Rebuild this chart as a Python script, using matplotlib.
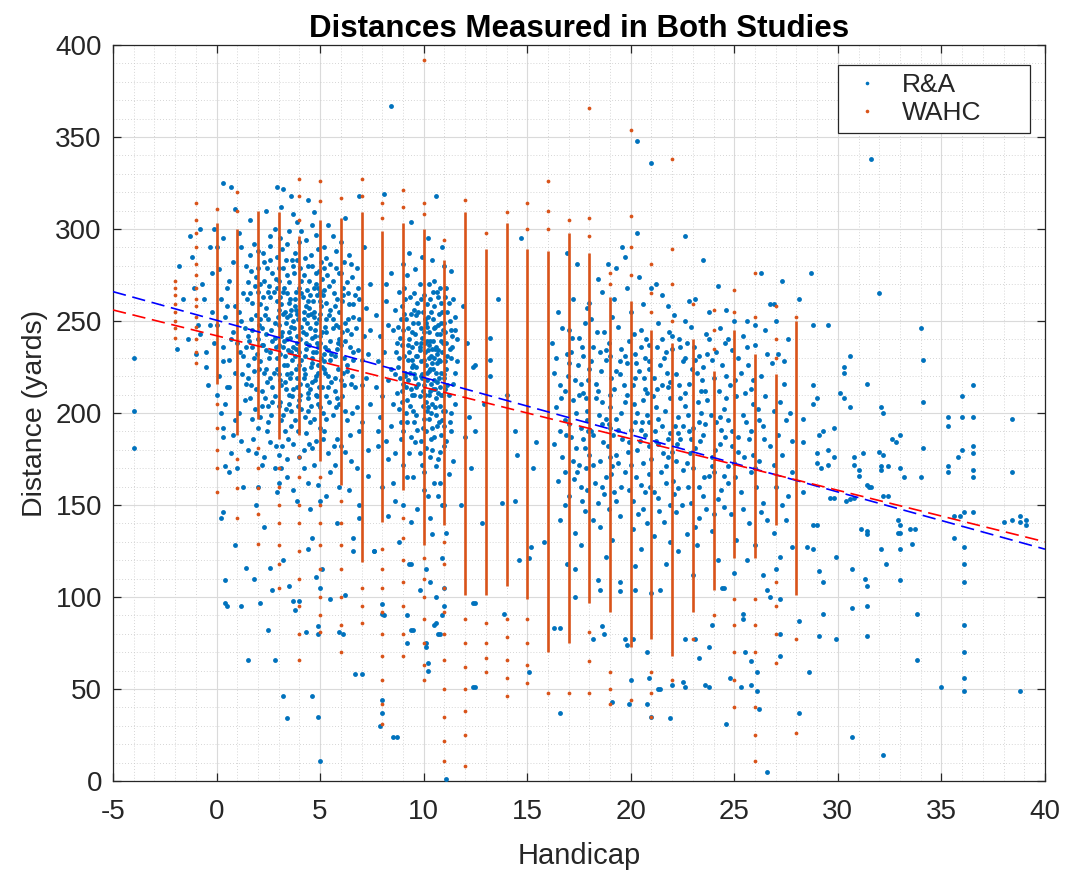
import matplotlib
matplotlib.use('Agg')
import matplotlib.pyplot as plt
from matplotlib.lines import Line2D
from matplotlib.ticker import MultipleLocator

plt.rcParams['font.family'] = ['Liberation Sans', 'DejaVu Sans']

# ---------------- R&A study (handicap, distance) ----------------
ra_far_left = [(-4.0, 230), (-4.0, 201), (-4.0, 181), (-1.8, 280), (-1.3, 296), (-1.9, 235),
               (-1.6, 262), (-1.2, 285), (-0.9, 248), (-0.7, 270), (-0.5, 233), (-0.3, 290),
               (-0.2, 255), (-0.1, 300), (-1.0, 232), (-0.4, 215), (-1.4, 240), (-0.8, 300),
               (0.0, 210), (-0.6, 262), (-0.3, 248), (-0.8, 243), (-0.2, 276), (-0.5, 225),
               (-0.1, 238), (0.0, 290), (-1.1, 268)]

ra_cluster_a = [
    (0.3, 325), (2.9, 323), (3.2, 322), (0.7, 323), (3.6, 318), (4.4, 316), (6.9, 318),
    (1.6, 305), (2.4, 310), (3.1, 312), (3.9, 304), (4.7, 309), (5.4, 302), (6.2, 306), (2.8, 300), (4.1, 299), (0.9, 311),
    (0.3, 295), (1.2, 290), (2.0, 288), (2.6, 296), (3.4, 292), (3.8, 287), (4.3, 294), (4.9, 289), (5.6, 296),
    (6.4, 286), (7.1, 290), (1.6, 286), (2.9, 285),
    (0.1, 278), (0.6, 272), (1.4, 280), (1.9, 274), (2.3, 282), (2.7, 276), (3.2, 279), (3.5, 271), (3.9, 283),
    (4.2, 275), (4.6, 280), (5.1, 273), (5.5, 281), (5.9, 276), (6.3, 271), (6.8, 279), (2.1, 270), (4.8, 270),
    (3.0, 272), (5.3, 284),
    (0.2, 262), (0.5, 268), (0.9, 258), (1.3, 265), (1.7, 260), (2.0, 266), (2.4, 257), (2.6, 263), (2.9, 268),
    (3.1, 259), (3.4, 265), (3.6, 256), (3.8, 262), (4.0, 268), (4.3, 258), (4.5, 264), (4.7, 255), (5.0, 261),
    (5.2, 267), (5.5, 256), (5.8, 262), (6.1, 268), (6.4, 259), (6.7, 264), (7.2, 257), (1.1, 255), (3.3, 255),
    (4.9, 268), (5.9, 255),
    (0.0, 248), (0.4, 252), (0.8, 244), (1.2, 250), (1.5, 242), (1.9, 253), (2.2, 246), (2.5, 251), (2.8, 241),
    (3.0, 248), (3.2, 254), (3.5, 244), (3.7, 250), (3.9, 242), (4.1, 247), (4.4, 253), (4.6, 241), (4.8, 249),
    (5.1, 244), (5.3, 251), (5.6, 246), (5.9, 240), (6.2, 249), (6.5, 243), (6.9, 251), (7.4, 245), (2.0, 240),
    (3.4, 240), (4.3, 243), (5.0, 254),
    (0.3, 236), (0.6, 229), (1.0, 238), (1.3, 231), (1.7, 236), (2.1, 228), (2.4, 234), (2.7, 239), (2.9, 230),
    (3.2, 236), (3.4, 226), (3.6, 233), (3.9, 238), (4.1, 229), (4.3, 235), (4.6, 227), (4.8, 233), (5.0, 238),
    (5.2, 228), (5.4, 234), (5.7, 231), (6.0, 237), (6.3, 226), (6.6, 233), (7.0, 229), (4.0, 226), (4.9, 226),
    (3.8, 231), (5.5, 239), (1.5, 226),
    (0.1, 220), (0.5, 214), (0.9, 222), (1.4, 216), (1.8, 223), (2.2, 212), (2.6, 219), (2.9, 224), (3.1, 215),
    (3.4, 221), (3.7, 213), (3.9, 219), (4.2, 224), (4.4, 211), (4.6, 217), (4.9, 222), (5.1, 214), (5.4, 220),
    (5.7, 212), (6.0, 218), (6.3, 223), (6.7, 214), (7.2, 219), (3.5, 210), (4.8, 210), (5.2, 224), (2.4, 224),
    (0.4, 205), (1.1, 200), (1.6, 208), (2.1, 198), (2.5, 204), (2.8, 209), (3.2, 199), (3.5, 205), (3.8, 196),
    (4.1, 202), (4.4, 208), (4.7, 197), (5.0, 203), (5.3, 209), (5.6, 199), (5.9, 205), (6.3, 196), (6.8, 203),
    (4.5, 195), (3.0, 204),
    (0.8, 188), (1.5, 180), (2.0, 192), (2.6, 184), (3.0, 177), (3.3, 190), (3.7, 183), (4.0, 176), (4.3, 189),
    (4.6, 181), (5.0, 192), (5.4, 178), (5.8, 186), (6.2, 179), (6.9, 190), (2.3, 176), (4.8, 185),
    (0.6, 168), (1.3, 160), (2.2, 172), (2.9, 157), (3.4, 165), (3.9, 152), (4.2, 170), (4.9, 161), (5.3, 155),
    (5.7, 172), (6.4, 158), (7.3, 166), (1.9, 150), (4.5, 148),
    (0.2, 143), (0.9, 128), (1.8, 110), (2.3, 138), (3.2, 120), (3.5, 106), (4.6, 132), (5.1, 115), (5.8, 140),
    (6.6, 125), (6.2, 101), (4.0, 98), (2.7, 104), (1.2, 95), (0.4, 97),
    (0.3, 192), (0.3, 187), (0.4, 171), (0.3, 146), (0.4, 109), (0.5, 95), (2.6, 116), (2.8, 66), (3.1, 170),
    (3.7, 98), (3.8, 93), (4.3, 81), (4.4, 126), (4.6, 46), (4.9, 35), (4.8, 111), (5.0, 105), (5.5, 99),
    (5.9, 81), (6.1, 80), (5.0, 11), (6.6, 132), (6.9, 143), (1.5, 66), (2.5, 82), (2.1, 97), (1.4, 116),
    (3.2, 46), (3.4, 34), (4.9, 84), (4.9, 80), (6.7, 58)]

ra_core_a = [
    (2.25, 287), (3.15, 289), (3.65, 283), (4.55, 286), (5.05, 282), (5.75, 288), (3.05, 295),
    (1.65, 277), (2.45, 279), (2.85, 273), (3.35, 283), (3.75, 276), (4.05, 279), (4.45, 272), (4.95, 277),
    (5.35, 275), (5.75, 279), (6.15, 282), (6.55, 274), (4.25, 284),
    (1.45, 262), (1.85, 269), (2.25, 263), (2.75, 266), (3.05, 263), (3.25, 268), (3.55, 262), (3.85, 266),
    (4.15, 263), (4.35, 267), (4.65, 261), (4.85, 264), (5.15, 264), (5.45, 269), (5.65, 265), (6.05, 261),
    (6.35, 265), (6.85, 268), (2.55, 269),
    (1.35, 246), (1.65, 251), (2.05, 248), (2.35, 253), (2.65, 245), (2.95, 252), (3.15, 244), (3.35, 249),
    (3.55, 253), (3.75, 246), (3.95, 251), (4.15, 244), (4.35, 249), (4.55, 254), (4.75, 245), (4.95, 251),
    (5.25, 247), (5.45, 253), (5.75, 248), (6.05, 244), (6.35, 251), (6.75, 246), (3.85, 256), (4.45, 257),
    (5.05, 258),
    (1.15, 233), (1.55, 239), (1.95, 232), (2.25, 237), (2.55, 230), (2.85, 236), (3.05, 232), (3.25, 239),
    (3.45, 234), (3.65, 229), (3.85, 235), (4.05, 240), (4.25, 231), (4.45, 237), (4.65, 233), (4.85, 238),
    (5.05, 230), (5.25, 236), (5.55, 232), (5.85, 238), (6.15, 230), (6.45, 236), (6.85, 234), (3.55, 241),
    (4.75, 242),
    (1.25, 221), (1.65, 215), (2.05, 224), (2.45, 217), (2.75, 222), (3.05, 218), (3.25, 226), (3.55, 219),
    (3.85, 224), (4.05, 216), (4.25, 221), (4.55, 225), (4.75, 218), (4.95, 214), (5.25, 222), (5.55, 217),
    (5.85, 224), (6.15, 215), (6.55, 220), (3.35, 213), (4.35, 215),
    (1.35, 207), (1.85, 202), (2.35, 208), (2.65, 199), (3.05, 206), (3.35, 202), (3.65, 209), (3.95, 204),
    (4.25, 198), (4.55, 204), (4.85, 209), (5.15, 200), (5.45, 206), (5.75, 203), (6.05, 209), (6.55, 200),
    (4.05, 210),
    (1.75, 186), (2.45, 190), (2.85, 182), (3.45, 186), (3.95, 190), (4.45, 183), (5.15, 186), (5.65, 182),
    (6.45, 188), (3.15, 182)]

ra_core_a_dense = [
    (1.8, 292), (2.6, 291), (3.5, 299), (4.0, 293), (4.8, 297), (5.2, 290), (6.0, 293), (3.7, 308), (4.6, 302),
    (1.5, 271), (2.0, 279), (2.6, 283), (3.0, 279), (3.4, 275), (3.7, 280), (4.1, 272), (4.4, 280), (4.8, 276),
    (5.2, 279), (5.6, 272), (6.0, 276), (6.5, 281), (2.3, 272),
    (1.6, 265), (2.1, 259), (2.5, 266), (2.9, 261), (3.2, 266), (3.5, 260), (3.8, 258), (4.1, 265), (4.4, 261),
    (4.7, 268), (5.0, 266), (5.3, 260), (5.7, 258), (6.1, 264), (6.6, 259), (3.0, 256), (4.2, 255),
    (1.7, 245), (2.1, 251), (2.4, 243), (2.8, 249), (3.1, 242), (3.4, 252), (3.6, 247), (3.9, 254), (4.2, 251),
    (4.5, 246), (4.7, 252), (5.0, 242), (5.3, 244), (5.6, 251), (5.9, 247), (6.3, 245), (6.6, 252),
    (1.4, 236), (1.8, 230), (2.2, 237), (2.6, 233), (3.0, 237), (3.3, 231), (3.7, 236), (4.0, 233), (4.3, 238),
    (4.6, 230), (4.9, 236), (5.2, 232), (5.5, 229), (5.8, 235), (6.2, 239), (6.6, 229),
    (1.5, 219), (1.9, 213), (2.3, 222), (2.7, 214), (3.0, 221), (3.3, 217), (3.6, 222), (3.9, 214), (4.2, 219),
    (4.5, 213), (4.8, 220), (5.1, 225), (5.4, 214), (5.7, 219), (6.1, 222), (6.5, 216),
    (1.7, 197), (2.2, 204), (2.7, 206), (3.1, 196), (3.6, 201), (4.0, 207), (4.4, 201), (4.9, 205), (5.3, 197),
    (5.8, 208), (6.2, 201)]

ra_fringe_a = [
    (1.2, 185), (1.9, 178), (2.5, 195), (2.8, 170), (3.4, 175), (3.6, 193), (4.2, 180), (4.7, 172), (5.2, 190),
    (5.5, 168), (6.0, 182), (6.5, 174), (7.0, 195), (7.3, 180), (2.0, 160), (3.0, 162), (3.7, 158), (4.4, 162),
    (5.0, 152), (5.9, 160), (6.8, 170), (7.4, 205), (7.0, 215), (7.3, 232), (7.1, 242), (6.9, 262), (7.4, 270),
    (1.0, 170), (0.7, 178), (0.9, 196), (0.2, 200), (0.6, 214), (0.3, 228), (0.7, 240), (0.5, 258), (0.8, 282),
    (1.1, 298)]

ra_cluster_b = [
    (8.1, 319), (10.6, 318), (9.4, 304), (10.2, 295), (9.3, 287), (10.9, 290), (8.4, 367),
    (8.4, 276), (11.3, 277), (9.0, 281), (9.8, 270), (10.4, 283), (10.8, 268), (8.8, 266), (11.0, 280), (9.6, 278),
    (7.7, 253), (8.2, 261), (8.6, 256), (9.1, 262), (9.4, 254), (9.7, 260), (10.0, 264), (10.2, 252), (10.5, 258),
    (10.7, 263), (10.9, 255), (11.2, 260), (11.5, 252), (8.9, 251), (10.3, 262),
    (7.9, 242), (8.3, 248), (8.7, 238), (9.0, 245), (9.3, 240), (9.5, 249), (9.8, 236), (10.0, 244), (10.1, 249),
    (10.3, 239), (10.5, 246), (10.6, 236), (10.8, 243), (11.0, 249), (11.1, 238), (11.3, 245), (11.6, 240),
    (8.5, 245), (9.9, 241), (10.7, 248), (10.4, 235), (9.6, 243),
    (7.8, 228), (8.1, 233), (8.4, 224), (8.8, 230), (9.1, 222), (9.3, 233), (9.5, 226), (9.7, 231), (9.9, 221),
    (10.0, 229), (10.2, 234), (10.3, 224), (10.5, 230), (10.6, 222), (10.8, 228), (10.9, 233), (11.1, 224),
    (11.3, 230), (11.5, 222), (8.6, 221), (9.8, 234), (10.4, 227), (10.7, 234), (11.0, 221), (10.1, 226),
    (7.7, 214), (8.0, 209), (8.3, 218), (8.7, 211), (9.0, 216), (9.2, 207), (9.4, 213), (9.6, 219), (9.8, 209),
    (10.0, 215), (10.1, 206), (10.3, 212), (10.5, 218), (10.6, 208), (10.8, 214), (11.0, 219), (11.2, 210),
    (11.4, 216), (9.9, 219), (10.4, 205), (10.7, 211), (9.1, 220), (8.5, 205),
    (7.9, 198), (8.4, 193), (8.8, 202), (9.2, 195), (9.5, 201), (9.7, 191), (10.0, 197), (10.2, 203), (10.4, 192),
    (10.6, 199), (10.8, 204), (11.0, 193), (11.3, 200), (9.0, 190), (10.1, 190), (10.9, 196),
    (7.8, 182), (8.3, 175), (8.9, 186), (9.3, 178), (9.6, 184), (9.9, 172), (10.1, 181), (10.3, 176), (10.5, 187),
    (10.8, 179), (11.1, 185), (11.4, 174), (9.0, 172), (10.6, 171),
    (8.0, 160), (8.6, 152), (9.2, 165), (9.7, 148), (10.0, 158), (10.3, 143), (10.5, 162), (10.9, 150),
    (11.2, 167), (8.3, 144), (9.4, 141), (10.7, 155),
    (7.6, 125), (8.8, 130), (9.3, 118), (10.1, 115), (10.3, 108), (10.6, 100), (10.9, 121), (11.1, 135),
    (9.8, 104), (10.4, 134),
    (8.0, 96), (8.1, 90), (8.0, 44), (8.0, 37), (7.9, 30), (8.7, 24), (8.5, 24), (9.2, 90), (9.2, 75), (9.5, 82),
    (10.1, 75), (10.2, 64), (10.2, 60), (10.6, 86), (10.7, 80), (10.5, 85), (10.8, 80), (10.9, 90), (11.0, 95),
    (11.0, 105), (10.1, 73), (11.1, 1), (7.0, 58), (6.9, 150), (8.0, 91), (9.4, 118), (9.4, 82), (7.6, 125)]

ra_core_b = [
    (8.95, 258), (9.35, 263), (9.75, 255), (10.15, 259), (10.45, 266), (10.85, 260), (11.15, 255),
    (8.75, 247), (9.15, 251), (9.45, 244), (9.65, 253), (9.85, 246), (10.05, 251), (10.25, 244), (10.45, 251),
    (10.65, 243), (10.85, 249), (11.05, 244), (11.25, 250), (10.15, 239),
    (8.65, 233), (8.95, 237), (9.25, 229), (9.45, 236), (9.65, 231), (9.85, 238), (10.05, 233), (10.15, 222),
    (10.25, 237), (10.35, 231), (10.45, 224), (10.55, 235), (10.75, 229), (10.95, 238), (11.15, 231),
    (11.35, 236), (9.55, 221), (10.65, 227),
    (8.85, 219), (9.15, 214), (9.35, 222), (9.55, 210), (9.75, 216), (9.95, 212), (10.15, 218), (10.25, 210),
    (10.35, 216), (10.55, 213), (10.75, 219), (10.95, 210), (11.15, 215), (9.65, 225), (10.85, 222),
    (8.95, 206), (9.35, 204), (9.65, 199), (9.95, 204), (10.25, 197), (10.55, 203), (10.75, 195), (11.05, 201),
    (10.35, 186), (9.85, 185), (10.85, 188), (10.15, 201)]

ra_core_b_dense = [
    (9.05, 268), (9.55, 265), (10.25, 270), (10.65, 266), (11.05, 263), (9.85, 262),
    (8.85, 241), (9.05, 254), (9.25, 246), (9.55, 256), (9.75, 249), (9.95, 255), (10.15, 247), (10.35, 255),
    (10.55, 247), (10.75, 254), (10.95, 245), (11.35, 242),
    (8.75, 225), (9.05, 231), (9.25, 237), (9.45, 229), (9.65, 238), (9.85, 228), (10.05, 238), (10.25, 230),
    (10.45, 239), (10.65, 232), (10.85, 239), (11.05, 228), (11.25, 235),
    (8.95, 212), (9.25, 218), (9.45, 210), (9.65, 214), (9.85, 220), (10.05, 210), (10.25, 223), (10.45, 213),
    (10.65, 217), (10.85, 210), (11.05, 213), (9.45, 225),
    (9.15, 200), (9.55, 195), (9.95, 192), (10.35, 200), (10.65, 193), (10.95, 201), (11.25, 195)]

ra_fringe_b = [
    (7.8, 190), (8.2, 185), (8.6, 178), (8.9, 195), (9.4, 187), (9.8, 178), (10.0, 168), (10.4, 180),
    (10.7, 175), (11.0, 182), (11.3, 190), (11.5, 205), (11.6, 228), (11.5, 245), (11.4, 262), (8.2, 270),
    (9.2, 275), (9.9, 285), (10.5, 272), (11.1, 268), (9.5, 165), (10.2, 155), (10.8, 162), (8.5, 162),
    (9.0, 150), (11.0, 150)]

ra_middle = [(12.4, 51), (12.4, 97), (12.5, 97), (12.5, 51), (11.9, 258), (12.1, 238), (12.4, 225), (12.5, 226),
             (13.2, 241), (13.2, 229), (13.2, 220), (12.2, 198), (12.5, 190), (12.3, 170), (12.0, 187),
             (14.4, 190), (14.5, 177), (14.4, 152), (14.7, 295), (15.3, 170), (15.4, 184), (15.1, 121),
             (15.8, 130), (13.8, 151), (14.6, 120), (13.9, 91), (15.1, 59), (15.2, 127), (12.9, 205),
             (13.6, 262), (14.0, 210), (11.8, 150), (12.8, 140), (20.3, 348), (21.0, 336), (31.6, 338)]

ra_cluster_c = [
    (17.4, 281), (18.4, 273), (18.9, 281), (19.6, 290), (19.7, 285), (20.4, 274), (20.3, 298), (21.2, 270),
    (23.5, 283), (24.2, 269), (19.3, 279), (16.9, 287), (22.6, 296),
    (16.5, 255), (17.2, 262), (17.9, 257), (18.6, 266), (19.1, 252), (19.8, 268), (20.6, 259), (21.5, 264),
    (22.1, 253), (22.8, 261), (23.1, 262), (24.6, 256), (25.6, 250), (26.7, 259), (26.9, 259), (27.3, 272),
    (26.3, 276), (21.0, 268), (18.1, 251),
    (16.2, 238), (16.7, 246), (17.1, 233), (17.5, 241), (17.8, 249), (18.2, 236), (18.7, 244), (19.0, 231),
    (19.4, 247), (19.9, 239), (20.2, 232), (20.5, 245), (20.9, 237), (21.3, 249), (21.7, 233), (22.0, 242),
    (22.4, 236), (22.9, 247), (23.3, 231), (23.8, 240), (24.3, 246), (24.9, 234), (25.4, 242), (26.0, 237),
    (26.5, 245), (27.1, 232), (27.6, 240), (20.7, 230), (18.5, 233), (22.6, 230),
    (16.3, 222), (16.6, 215), (17.0, 227), (17.3, 218), (17.7, 211), (18.0, 224), (18.3, 216), (18.8, 229),
    (19.2, 213), (19.5, 221), (19.8, 227), (20.1, 215), (20.4, 223), (20.8, 211), (21.1, 219), (21.4, 226),
    (21.8, 214), (22.2, 221), (22.5, 228), (22.8, 216), (23.2, 222), (23.6, 212), (24.0, 219), (24.4, 226),
    (24.8, 215), (25.3, 222), (25.8, 213), (26.3, 220), (26.8, 227), (27.4, 216), (19.0, 210), (21.6, 230),
    (23.9, 229),
    (16.4, 203), (16.8, 196), (17.2, 207), (17.6, 192), (17.9, 201), (18.3, 208), (18.6, 194), (19.0, 203),
    (19.3, 197), (19.7, 206), (20.0, 191), (20.3, 200), (20.6, 207), (20.9, 195), (21.2, 203), (21.5, 193),
    (21.9, 208), (22.3, 198), (22.6, 204), (23.0, 192), (23.4, 200), (23.7, 207), (24.1, 195), (24.5, 202),
    (24.9, 190), (25.4, 199), (25.9, 205), (26.4, 193), (26.9, 201), (27.5, 196), (18.1, 190), (20.8, 199),
    (22.8, 190), (25.1, 209),
    (16.3, 183), (16.7, 176), (17.1, 187), (17.5, 172), (17.8, 181), (18.2, 188), (18.5, 174), (18.9, 182),
    (19.3, 177), (19.6, 186), (20.0, 172), (20.3, 180), (20.7, 188), (21.0, 175), (21.3, 183), (21.7, 171),
    (22.0, 179), (22.4, 186), (22.7, 173), (23.1, 181), (23.5, 188), (23.9, 176), (24.3, 183), (24.7, 171),
    (25.2, 179), (25.7, 186), (26.2, 174), (26.7, 182), (27.3, 177), (27.8, 185), (21.9, 189), (19.1, 171),
    (16.5, 163), (17.0, 155), (17.4, 168), (17.9, 158), (18.4, 151), (18.8, 165), (19.2, 157), (19.7, 168),
    (20.1, 152), (20.5, 161), (20.9, 167), (21.3, 154), (21.7, 162), (22.1, 156), (22.5, 169), (22.9, 151),
    (23.3, 160), (23.8, 166), (24.2, 153), (24.7, 162), (25.3, 157), (25.8, 168), (26.4, 151), (27.0, 160),
    (27.6, 155), (20.7, 157), (18.6, 160),
    (16.6, 142), (17.3, 135), (17.8, 147), (18.5, 138), (19.1, 131), (19.5, 144), (20.1, 137), (20.6, 148),
    (21.1, 133), (21.6, 141), (22.2, 146), (22.7, 134), (23.3, 143), (23.9, 136), (24.5, 149), (25.1, 131),
    (25.7, 140), (26.3, 146), (26.9, 135), (27.5, 142), (21.9, 130),
    (16.9, 118), (17.3, 115), (17.3, 100), (18.4, 109), (18.5, 104), (19.5, 108), (19.5, 103), (20.2, 117),
    (20.2, 104), (21.0, 102), (21.4, 104), (22.3, 125), (23.0, 112), (24.4, 105), (24.5, 105), (25.6, 120),
    (26.4, 112), (26.6, 104), (26.7, 100), (27.2, 122), (27.8, 127),
    (16.3, 83), (16.6, 83), (16.6, 37), (18.2, 77), (18.6, 84), (18.7, 80), (19.1, 43), (19.7, 77), (19.8, 74),
    (20.1, 77), (20.0, 55), (19.9, 42), (20.8, 42), (20.8, 70), (20.9, 56), (21.0, 35), (21.3, 50), (21.4, 50),
    (21.9, 34), (22.0, 52), (22.5, 54), (22.6, 77), (23.1, 77), (22.6, 51), (23.3, 67), (23.8, 73), (23.6, 52),
    (23.8, 51), (23.9, 85), (24.6, 31), (24.8, 56), (25.3, 51), (25.5, 70), (25.4, 91), (25.4, 88), (25.8, 52),
    (26.1, 49), (25.8, 65), (26.1, 59), (26.2, 39), (26.6, 5), (27.2, 80), (27.2, 68), (27.2, 99)]

ra_core_c = [
    (17.15, 241), (17.65, 236), (18.35, 244), (18.95, 238), (19.55, 235), (20.15, 243), (20.75, 240),
    (21.25, 236), (21.85, 244), (22.35, 240), (23.05, 236), (23.65, 243), (24.55, 238),
    (16.95, 220), (17.45, 226), (17.95, 218), (18.55, 223), (19.05, 219), (19.65, 215), (20.25, 227),
    (20.65, 219), (21.25, 213), (21.75, 222), (22.35, 215), (22.95, 224), (23.45, 218), (24.25, 212),
    (25.05, 218), (25.65, 226),
    (16.65, 208), (17.35, 200), (17.85, 208), (18.45, 199), (18.95, 194), (19.55, 200), (20.15, 205),
    (20.55, 195), (21.05, 209), (21.65, 201), (22.15, 193), (22.75, 199), (23.25, 206), (23.85, 199),
    (24.35, 191), (25.55, 195), (26.15, 202),
    (16.85, 188), (17.35, 181), (17.95, 190), (18.65, 184), (19.15, 188), (19.85, 179), (20.45, 185),
    (21.15, 190), (21.55, 178), (22.25, 183), (22.85, 178), (23.35, 185), (24.05, 180), (24.55, 187),
    (25.45, 176), (26.45, 186),
    (17.25, 164), (17.85, 170), (18.25, 162), (19.05, 167), (19.55, 160), (20.25, 165), (20.95, 160),
    (21.45, 168), (22.05, 163), (22.75, 160), (23.55, 165), (24.35, 158), (25.05, 165), (26.05, 160),
    (17.65, 152), (18.95, 148), (20.35, 145), (21.35, 147), (22.45, 150), (23.65, 148), (24.85, 145)]

ra_core_c_dense = [
    (17.7, 231), (18.8, 234), (19.7, 231), (20.9, 228), (22.0, 235), (23.1, 229), (24.1, 233), (25.2, 230),
    (16.8, 212), (17.6, 216), (18.4, 212), (19.3, 223), (20.2, 219), (20.9, 224), (21.9, 217), (22.6, 211),
    (23.5, 225), (24.6, 220), (25.9, 218),
    (17.0, 194), (17.7, 186), (18.8, 197), (19.4, 191), (20.5, 191), (21.3, 197), (21.8, 186), (22.5, 193),
    (23.6, 194), (24.7, 196), (25.8, 190),
    (17.2, 174), (18.0, 177), (19.0, 176), (19.9, 184), (20.9, 182), (22.2, 174), (22.9, 186), (23.9, 171),
    (24.9, 182), (25.9, 177),
    (17.6, 160), (18.7, 156), (19.9, 158), (21.1, 157), (22.3, 159), (23.5, 155), (24.5, 166)]

ra_fringe_c = [
    (16.4, 230), (17.0, 245), (18.0, 260), (19.2, 262), (20.0, 255), (21.8, 258), (22.6, 250), (23.8, 255),
    (25.0, 250), (26.0, 248), (27.0, 250),
    (16.9, 232), (18.1, 228), (19.5, 228), (20.5, 236), (21.5, 240), (22.7, 238), (23.7, 232), (24.7, 240),
    (25.6, 236), (26.6, 232), (27.4, 228),
    (17.5, 210), (18.6, 206), (19.8, 210), (20.7, 213), (21.5, 215), (22.4, 208), (23.4, 212), (24.6, 208),
    (25.5, 211), (26.5, 209), (27.2, 206),
    (16.6, 190), (17.9, 196), (19.0, 192), (20.2, 195), (21.2, 185), (22.3, 189), (23.3, 195), (24.3, 198),
    (25.2, 187), (26.2, 196), (27.1, 188), (27.7, 200),
    (16.8, 168), (18.2, 172), (19.4, 173), (20.6, 173), (21.8, 176), (23.0, 170), (24.0, 168), (25.0, 173),
    (26.0, 170), (26.9, 172), (27.8, 168),
    (16.8, 150), (18.2, 142), (19.3, 152), (20.8, 140), (21.9, 150), (23.1, 138), (24.0, 145), (25.4, 148),
    (26.6, 142), (27.3, 150),
    (17.6, 128), (18.8, 122), (20.5, 126), (21.7, 118), (23.2, 128), (24.2, 120), (25.0, 113), (26.0, 128),
    (27.0, 115)]

ra_right = [
    (28.7, 276), (28.1, 262), (32.0, 265), (28.8, 248), (29.5, 248), (34.0, 246), (30.6, 231), (30.3, 225),
    (30.3, 222), (34.1, 229), (31.4, 216), (28.8, 215), (29.0, 208), (30.1, 211), (30.3, 208), (28.8, 205),
    (30.6, 203), (32.1, 203), (32.2, 200), (34.1, 206), (36.0, 209), (36.5, 215), (28.3, 197), (35.3, 198),
    (36.0, 198), (36.5, 198), (38.4, 197), (35.3, 193), (29.1, 188), (29.3, 190), (29.8, 192), (28.3, 184),
    (33.0, 188), (32.6, 186), (32.8, 184), (36.5, 182), (29.0, 178), (29.5, 180), (29.8, 176), (30.8, 176),
    (31.2, 178), (32.0, 179), (32.2, 177), (34.1, 181), (36.0, 180), (35.8, 176), (36.5, 178), (29.0, 173),
    (29.5, 172), (29.2, 170), (30.8, 172), (31.0, 169), (31.0, 166), (32.1, 171), (32.1, 169), (32.4, 171),
    (33.0, 170), (35.3, 171), (35.3, 168), (36.5, 169), (38.4, 168), (33.2, 165), (34.0, 165), (36.5, 165),
    (31.5, 160), (31.6, 160), (28.3, 157), (29.6, 154), (29.8, 154), (30.6, 153), (30.8, 154), (32.4, 155),
    (29.0, 139), (31.4, 136), (31.4, 134), (33.0, 139), (33.0, 135), (33.7, 137), (35.9, 144), (36.5, 146),
    (38.4, 142), (39.1, 142), (39.1, 139), (28.8, 126),
    (28.8, 139), (28.5, 127), (28.1, 87), (28.6, 59), (28.1, 37), (29.1, 114), (29.3, 108), (29.1, 79),
    (29.3, 91), (29.9, 122), (29.9, 77), (30.4, 152), (30.7, 115), (30.7, 94), (30.7, 24), (31.1, 137),
    (31.3, 110), (31.4, 106), (31.4, 95), (31.4, 79), (32.2, 155), (32.1, 126), (32.3, 118), (32.2, 14),
    (32.9, 142), (32.9, 135), (33.0, 126), (33.0, 109), (33.5, 137), (33.6, 129), (33.8, 91), (33.8, 66),
    (35.0, 51), (35.6, 144), (35.6, 132), (36.1, 146), (36.1, 127), (36.1, 118), (36.1, 108), (36.1, 85),
    (36.1, 70), (36.1, 56), (36.1, 49), (38.0, 141), (38.8, 144), (38.8, 141), (38.8, 49), (31.4, 161)]

# ---------------- WAHC study: whole-number handicaps ----------------
wahc_handicap = [-2, -1, 0, 1, 2, 3, 4, 5, 6, 7, 8, 9, 10, 11, 12, 13, 14,
                 15, 16, 17, 18, 19, 20, 21, 22, 23, 24, 25, 26, 27, 28]
# dense band of each column (lowest, highest distance)
wahc_band_low = [None, None, 216, 188, 197, 186, 188, 174, 161, 119, 141, 158, 128, 139, 101, 101, 106,
                 99, 70, 75, 97, 92, 73, 77, 68, 92, 104, 121, 121, 139, 101]
wahc_band_high = [None, None, 303, 300, 310, 309, 296, 305, 306, 309, 299, 303, 300, 283, 309, 289, 303,
                  289, 288, 298, 287, 263, 261, 245, 238, 240, 223, 245, 232, 221, 250]
# scattered single drives outside the dense band
wahc_scattered = [
    [241, 246, 250, 255, 259, 264, 268, 272],
    [227, 233, 240, 247, 252, 258, 262, 268, 275, 281, 290, 298, 305, 314],
    [311, 205, 192, 180, 170, 157],
    [320, 310, 175, 159, 143],
    [181, 170, 159, 145, 129],
    [170, 160, 150, 140, 128, 118, 105],
    [327, 318, 305, 176, 165, 150, 140, 125, 110, 95, 80, 66],
    [326, 315, 165, 150, 140, 128, 115, 100, 90, 81],
    [317, 152, 140, 128, 115, 100, 85, 70],
    [327, 318, 105, 95, 86],
    [314, 306, 126, 115, 105, 92, 80, 68, 55, 42, 31],
    [321, 312, 143, 132, 120, 108, 95, 80, 68],
    [392, 314, 308, 121, 110, 100, 88, 75, 63, 55],
    [294, 130, 118, 105, 92, 80, 66, 50, 35, 22, 11],
    [316, 88, 75, 62, 50, 38, 25, 8],
    [298, 86, 75, 67, 59],
    [309, 88, 78, 66, 56, 46],
    [314, 300, 88, 75, 63, 53],
    [326, 310, 300, 48],
    [305, 48],
    [366, 306, 296, 81, 65, 48],
    [276, 270, 59, 50, 42],
    [354, 307, 290, 275, 44],
    [281, 265, 255, 59, 48, 35],
    [338, 289, 270, 250, 55],
    [259, 77],
    [256, 245, 235, 90],
    [267, 255, 99, 85, 70, 55, 40],
    [276, 252, 99, 85, 70, 40, 25, 11],
    [258, 240, 230, 108, 95, 80, 64],
    [252, 77, 26]]

# least-squares fits shown in the chart (slope, intercept)
ra_fit = (-3.11, 250.4)
wahc_fit = (-2.80, 242.0)
fit_handicap = [-5, 40]

series_labels = ['R&A', 'WAHC']
x_ticks = [-5, 0, 5, 10, 15, 20, 25, 30, 35, 40]
y_ticks = [0, 50, 100, 150, 200, 250, 300, 350, 400]

# ---------------- drawing ----------------
BLUE = '#0072BD'
ORANGE = '#D95319'
AX_COL = '#262626'

fig = plt.figure(figsize=(10.66, 8.74), dpi=100)
ax = fig.add_axes([0.106, 0.1064, 0.8743, 0.8421])

ra_points = (ra_far_left + ra_cluster_a + ra_core_a + ra_core_a_dense + ra_fringe_a +
             ra_cluster_b + ra_core_b + ra_core_b_dense + ra_fringe_b + ra_middle +
             ra_cluster_c + ra_core_c + ra_core_c_dense + ra_fringe_c + ra_right)
ra_x = [p[0] for p in ra_points]
ra_y = [p[1] for p in ra_points]
ax.plot(ra_x, ra_y, linestyle='none', marker='o', markersize=3.5,
        markerfacecolor=BLUE, markeredgecolor='none', zorder=3)

for h, lo, hi in zip(wahc_handicap, wahc_band_low, wahc_band_high):
    if lo is not None:
        ax.vlines(h, lo, hi, colors=ORANGE, linewidth=1.9, zorder=4)
sc_x = [h for h, vals in zip(wahc_handicap, wahc_scattered) for _ in vals]
sc_y = [v for vals in wahc_scattered for v in vals]
ax.plot(sc_x, sc_y, linestyle='none', marker='o', markersize=2.7,
        markerfacecolor=ORANGE, markeredgecolor='none', zorder=4)

ax.plot(fit_handicap, [ra_fit[1] + ra_fit[0] * x for x in fit_handicap],
        color='#0000FF', linewidth=1.2, dashes=(8, 4), zorder=5)
ax.plot(fit_handicap, [wahc_fit[1] + wahc_fit[0] * x for x in fit_handicap],
        color='#FF0000', linewidth=1.2, dashes=(8, 4), zorder=5)

ax.set_xlim(-5, 40)
ax.set_ylim(0, 400)
ax.set_xticks(x_ticks)
ax.set_yticks(y_ticks)
ax.set_xticklabels([str(t) for t in x_ticks])
ax.set_yticklabels([str(t) for t in y_ticks])
ax.xaxis.set_minor_locator(MultipleLocator(1))
ax.yaxis.set_minor_locator(MultipleLocator(10))
ax.tick_params(which='major', direction='in', length=6, width=0.9, colors=AX_COL,
               labelsize=20, top=True, right=True)
ax.tick_params(axis='x', which='major', pad=13)
ax.tick_params(axis='y', which='major', pad=8)
ax.tick_params(which='minor', length=0, top=True, right=True)
ax.grid(which='major', color='#DADADA', linewidth=0.8, linestyle='-', zorder=0)
ax.grid(which='minor', color='#C8C8C8', linewidth=0.6, linestyle=(0, (1, 2.5)), zorder=0)
ax.set_axisbelow(True)
for sp in ax.spines.values():
    sp.set_color(AX_COL)
    sp.set_linewidth(0.9)

ax.set_xlabel('Handicap', fontsize=21, color=AX_COL, labelpad=12)
ax.set_ylabel('Distance (yards)', fontsize=20.5, color=AX_COL, labelpad=5)
ax.set_title('Distances Measured in Both Studies', fontsize=22.5, fontweight='bold', color='#000000', pad=6)

handles = [Line2D([], [], linestyle='none', marker='o', markersize=2.6, markerfacecolor=BLUE, markeredgecolor='none'),
           Line2D([], [], linestyle='none', marker='o', markersize=2.6, markerfacecolor=ORANGE, markeredgecolor='none')]
leg = ax.legend(handles, series_labels, loc='upper left', bbox_to_anchor=(0.778, 0.882, 0.206, 0.091),
                mode='expand', borderaxespad=0, fontsize=19, frameon=True, fancybox=False, framealpha=1,
                edgecolor=AX_COL, handlelength=1.6, handletextpad=0.5, borderpad=0.3, labelspacing=0.15)
leg.get_frame().set_linewidth(0.9)
for t in leg.get_texts():
    t.set_color(AX_COL)

fig.savefig('out.png', dpi=100)
